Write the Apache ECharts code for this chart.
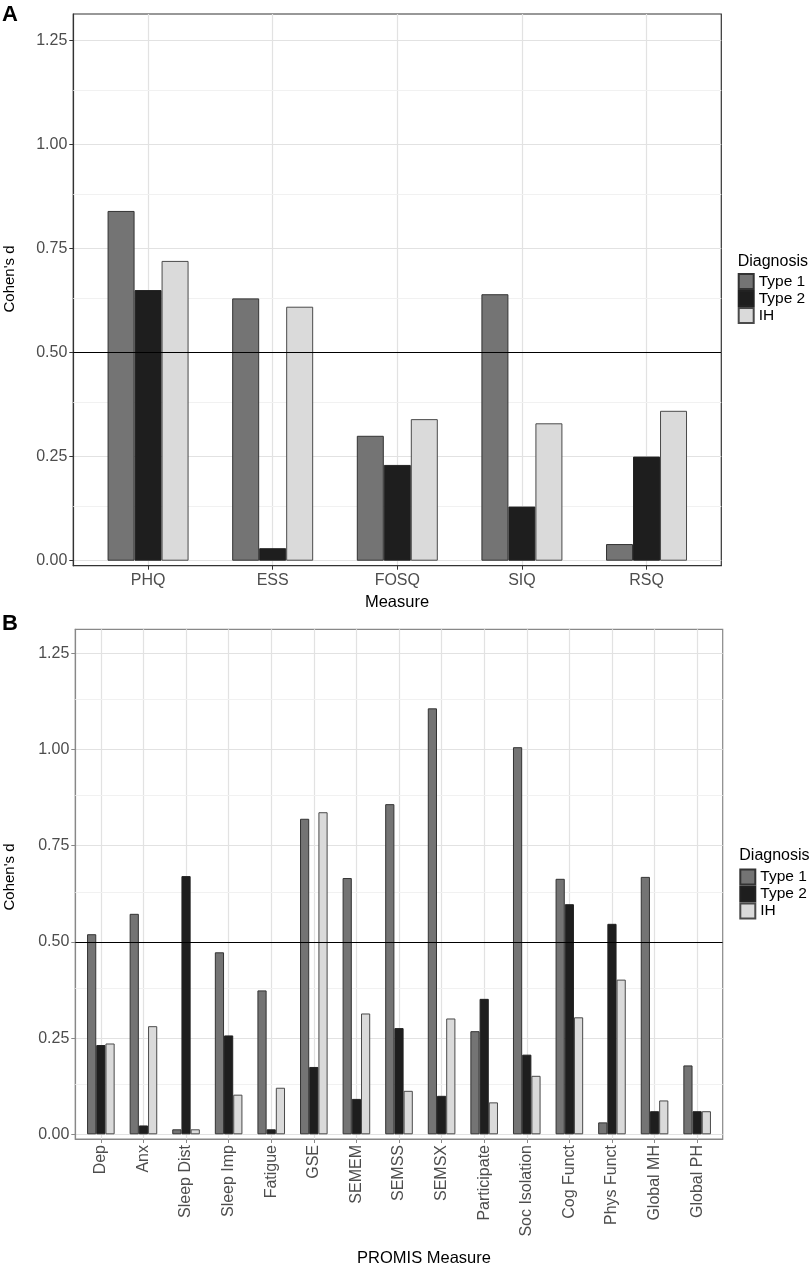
<!DOCTYPE html>
<html>
<head>
<meta charset="utf-8">
<script src="https://cdn.jsdelivr.net/npm/echarts@6/dist/echarts.min.js"></script>
<style>
html,body{margin:0;padding:0;background:#fff;}
#chart{width:812px;height:1271px;}
</style>
</head>
<body>
<div id="chart"></div>
<script>
// ---- data ----
const catsA = ['PHQ', 'ESS', 'FOSQ', 'SIQ', 'RSQ'];
const type1A = [0.84, 0.63, 0.30, 0.64, 0.04];
const type2A = [0.65, 0.03, 0.23, 0.13, 0.25];
const ihA = [0.72, 0.61, 0.34, 0.33, 0.36];

const catsB = ['Dep', 'Anx', 'Sleep Dist', 'Sleep Imp', 'Fatigue', 'GSE', 'SEMEM', 'SEMSS', 'SEMSX',
  'Participate', 'Soc Isolation', 'Cog Funct', 'Phys Funct', 'Global MH', 'Global PH'];
const type1B = [0.52, 0.573, 0.013, 0.473, 0.374, 0.820, 0.666, 0.858, 1.107, 0.268, 1.006, 0.664, 0.031, 0.669, 0.179];
const type2B = [0.232, 0.023, 0.671, 0.257, 0.013, 0.175, 0.092, 0.276, 0.100, 0.352, 0.207, 0.598, 0.547, 0.060, 0.060];
const ihB = [0.236, 0.281, 0.013, 0.103, 0.121, 0.837, 0.314, 0.113, 0.301, 0.083, 0.152, 0.304, 0.402, 0.088, 0.060];

const seriesNames = ['Type 1', 'Type 2', 'IH'];
const yTicks = [0, 0.25, 0.5, 0.75, 1.0, 1.25];
const yMinorTicks = [0.125, 0.375, 0.625, 0.875, 1.125];
const threshold = 0.5;

// ---- styles ----
const FONT = "'Liberation Sans', Arial, sans-serif";
const fills = ['#747474', '#1e1e1e', '#dadada'];
const borders = ['#333333', '#222222', '#4a4a4a'];

const chart = echarts.init(document.getElementById('chart'), null, {renderer: 'canvas'});

function isTick(v, list) {
  return list.some(t => Math.abs(t - v) < 1e-6);
}

function makeAxes(idx, cats, yMin, yMax, rotate, lineColor) {
  const xIdx = cats.map((_, i) => i);
  const xAxis = {
    type: 'value', gridIndex: idx, min: -0.6, max: cats.length - 1 + 0.6,
    minInterval: 1, maxInterval: 1,
    axisLine: {show: true, onZero: false, lineStyle: {color: lineColor, width: 1.2}},
    axisTick: {show: true, length: 4, customValues: xIdx, lineStyle: {color: lineColor}},
    axisLabel: {
      show: true, customValues: xIdx, rotate: rotate, margin: rotate ? 6 : 7,
      color: '#4d4d4d', fontSize: 16, fontFamily: FONT,
      formatter: v => (Math.abs(v - Math.round(v)) < 1e-6 && cats[Math.round(v)] !== undefined) ? cats[Math.round(v)] : ''
    },
    splitLine: {show: true, lineStyle: {color: '#e2e2e2', width: 1.2}}
  };
  const yAxis = {
    type: 'value', gridIndex: idx, min: yMin, max: yMax,
    minInterval: 0.25, maxInterval: 0.25,
    axisLine: {show: true, onZero: false, lineStyle: {color: lineColor, width: 1.2}},
    axisTick: {show: true, length: 4, customValues: yTicks, lineStyle: {color: lineColor}},
    axisLabel: {
      show: true, customValues: yTicks, margin: 6,
      color: '#4d4d4d', fontSize: 16, fontFamily: FONT,
      formatter: v => isTick(v, yTicks) ? v.toFixed(2) : ''
    },
    splitLine: {show: true, lineStyle: {color: '#e2e2e2', width: 1.2}}
  };
  return {xAxis, yAxis};
}

function makeSeries(idx, values, barWidth) {
  return values.map((vals, s) => {
    const ser = {
      name: seriesNames[s], type: 'bar', xAxisIndex: idx, yAxisIndex: idx,
      barWidth: barWidth, barGap: '0%',
      itemStyle: {color: fills[s], borderColor: borders[s], borderWidth: 1},
      data: vals.map((v, i) => [i, v])
    };
    if (s === 0) {
      ser.markLine = {
        silent: true, z: 1, symbol: ['none', 'none'], label: {show: false},
        lineStyle: {color: '#f1f1f1', width: 1, type: 'solid'},
        data: yMinorTicks.map(v => ({yAxis: v}))
      };
    }
    if (s === 2) {
      ser.markLine = {
        silent: true, symbol: ['none', 'none'], label: {show: false},
        lineStyle: {color: '#000000', width: 1.2, type: 'solid'},
        data: [{yAxis: threshold}]
      };
    }
    return ser;
  });
}

const axA = makeAxes(0, catsA, -0.012, 1.313, 0, '#333333');
const axB = makeAxes(1, catsB, -0.0122, 1.3124, 90, '#888888');

function txt(text, x, y, opts) {
  return Object.assign({
    type: 'text', x: x, y: y, silent: true,
    style: Object.assign({
      text: text, fill: '#000', fontSize: 16, fontFamily: FONT,
      align: 'center', verticalAlign: 'middle'
    }, (opts && opts.style) || {})
  }, (opts && opts.el) || {});
}

const legendCommon = {
  orient: 'vertical', icon: 'rect', itemWidth: 15, itemHeight: 15, itemGap: 0, padding: 0,
  data: seriesNames, selectedMode: false,
  textStyle: {fontSize: 15.5, color: '#000', fontFamily: FONT, lineHeight: 16}
};

chart.setOption({
  animation: false,
  backgroundColor: '#fff',
  grid: [
    {left: 73.3, top: 14, width: 648, height: 551.7, show: true, borderColor: '#333333', borderWidth: 1.2, backgroundColor: 'transparent'},
    {left: 75.3, top: 629.3, width: 647.4, height: 509.7, show: true, borderColor: '#888888', borderWidth: 1.2, backgroundColor: 'transparent'}
  ],
  xAxis: [axA.xAxis, axB.xAxis],
  yAxis: [axA.yAxis, axB.yAxis],
  legend: [
    Object.assign({left: 737.7, top: 273}, legendCommon),
    Object.assign({left: 739.3, top: 868.5}, legendCommon)
  ],
  series: [].concat(
    makeSeries(0, [type1A, type2A, ihA], 27),
    makeSeries(1, [type1B, type2B, ihB], 9.2)
  ),
  graphic: [
    txt('A', 2, 15, {style: {fontSize: 22, fontWeight: 'bold', align: 'left'}}),
    txt('B', 2, 624, {style: {fontSize: 22, fontWeight: 'bold', align: 'left'}}),
    txt("Cohen's d", 10, 279, {el: {rotation: Math.PI / 2}, style: {fontSize: 15}}),
    txt("Cohen's d", 10, 877, {el: {rotation: Math.PI / 2}, style: {fontSize: 15}}),
    txt('Measure', 397, 602.5, {style: {fontSize: 16.5}}),
    txt('PROMIS Measure', 424, 1258.5, {style: {fontSize: 16.5}}),
    txt('Diagnosis', 737.7, 261.7, {style: {fontSize: 16, align: 'left'}}),
    txt('Diagnosis', 739.3, 855.7, {style: {fontSize: 16, align: 'left'}})
  ]
});
</script>
</body>
</html>
